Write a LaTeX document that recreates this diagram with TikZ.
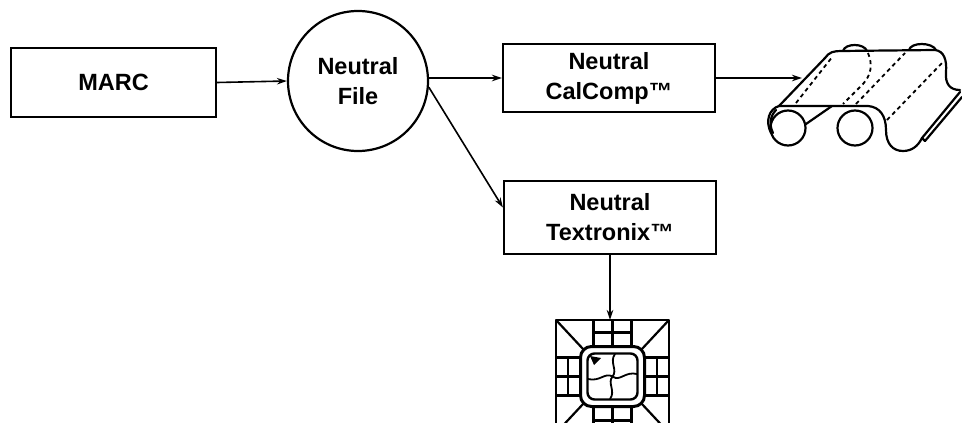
\documentclass[tikz,border=0pt]{standalone}
\usepackage{fontspec}
\setmainfont{Liberation Sans}
\usetikzlibrary{arrows.meta,calc}

\newcommand\labelfont{\fontsize{23.5}{30}\selectfont\bfseries}

\tikzset{
  box/.style={draw, line width=2.2pt, minimum width=212pt, minimum height=68pt,
              inner sep=0pt, align=center, font=\labelfont},
  hub/.style={draw, circle, line width=2.2pt, minimum size=140pt,
              inner sep=0pt, align=center, font=\labelfont},
  flow/.style={line width=1.6pt, -{Stealth[length=10pt,width=6.5pt]}},
  ink/.style={line width=2.2pt, line join=round, line cap=round},
  hidden/.style={line width=1.8pt, dash pattern=on 4pt off 3.5pt},
}

\begin{document}
\begin{tikzpicture}[x=1pt,y=-1pt]
\useasboundingbox (0,0) rectangle (962,423);

% --- blocks ---
\node[box, minimum width=205pt, minimum height=69pt] (marc) at (113.5,82.5) {MARC};
\node[hub] (file) at (358,81) {Neutral\\File};
\node[box] (calc) at (609,78) {Neutral\\CalComp™};
\node[box, minimum height=73pt] (tex) at (610,217.5) {Neutral\\Textronix™};

\coordinate (plotin) at (802,78);
\coordinate (chiptop) at (610,320);

% --- connectors ---
\draw[flow] (marc.east) -- (file.west);
\draw[flow] (file.east |- calc.west) -- (calc.west);
\draw[flow] (file.-5) -- ([yshift=10pt]tex.west);
\draw[flow] (tex.south) -- (chiptop);
\draw[flow] (calc.east) -- (plotin);

% --- pen plotter: paper sheet over two rollers ---
\begin{scope}[ink]
  \draw (788,128) circle[radius=17.5pt];
  \draw (855,128) circle[radius=17.5pt];
  % sheet outline: left wrap, slanted surface, back edge, right curl
  \draw (771,133) .. controls (765,121) and (769,109) .. (779,106)
        -- (825,58) .. controls (829,52) and (834,51) .. (841,51)
        -- (935,50) .. controls (944,51) and (947,60) .. (946,72)
        .. controls (945,84) and (950,90) .. (960,90);
  \draw (776,110) .. controls (770,116) and (769,125) .. (773,133);
  % front edge wrapping the second roller and curling forward
  \draw (779,106) -- (868,106) .. controls (880,107) and (886,116) .. (886,130)
        .. controls (886,144) and (893,151) .. (903,151)
        .. controls (912,151) and (918,146) .. (922,138);
  % sheet edge
  \draw (922,138) -- (960,92);
  \draw (925,141) -- (962,97);
  \draw (922,138) -- (925,141);
  % belt from the first roller
  \draw (806,124) -- (832,106);
  % rollers peeking over the back edge
  \draw (843,51) .. controls (845,43) and (864,43) .. (867,51);
  \draw (909,50) .. controls (911,42) and (932,42) .. (936,50);
\end{scope}
\begin{scope}[hidden]
  \draw (796,103) -- (833,56);
  \draw (868,53) .. controls (873,65) and (871,75) .. (863,84) -- (843,104);
  \draw (856,104) -- (905,53);
  \draw (887,120) -- (942,63);
\end{scope}

% --- terminal: display chip ---
\begin{scope}[line width=2.2pt, line join=round]
  \clip (540,300) rectangle (700,423);
  \draw[line width=2.8pt] (556,320) rectangle (669,433);
  \draw[line width=3pt, rounded corners=11pt] (580.5,346.5) rectangle (644.5,406.5);
  \draw[line width=2.4pt, rounded corners=7pt] (587.5,353.5) rectangle (637.5,399.5);
  % corner diagonals
  \draw (556,320) -- (583.7,349.7);
  \draw (669,320) -- (641.3,349.7);
  \draw (556,433) -- (583.7,403.3);
  \draw (669,433) -- (641.3,403.3);
  % pins
  \foreach \d in {-19,0,19} {
    \draw (612.5+\d,320) -- (612.5+\d,346.5);
    \draw (612.5+\d,406.5) -- (612.5+\d,433);
    \draw (556,376.5+\d) -- (580.5,376.5+\d);
    \draw (644.5,376.5+\d) -- (669,376.5+\d);
  }
  \draw (593.5,332.5) -- (631.5,332.5);
  \draw (593.5,420.5) -- (631.5,420.5);
  \draw (568,357.5) -- (568,395.5);
  \draw (657,357.5) -- (657,395.5);
  % pinwheel pattern in the window
  \fill (590,356) -- (601,358) -- (594,365) -- cycle;
  \draw[line width=1.8pt]
    (612.5,376.5) .. controls (605,372) and (600,382) .. (588,379)
    (612.5,376.5) .. controls (618,370) and (609,362) .. (615,354)
    (612.5,376.5) .. controls (620,382) and (625,371) .. (637,374)
    (612.5,376.5) .. controls (607,383) and (616,391) .. (610,399);
\end{scope}
\end{tikzpicture}
\end{document}
